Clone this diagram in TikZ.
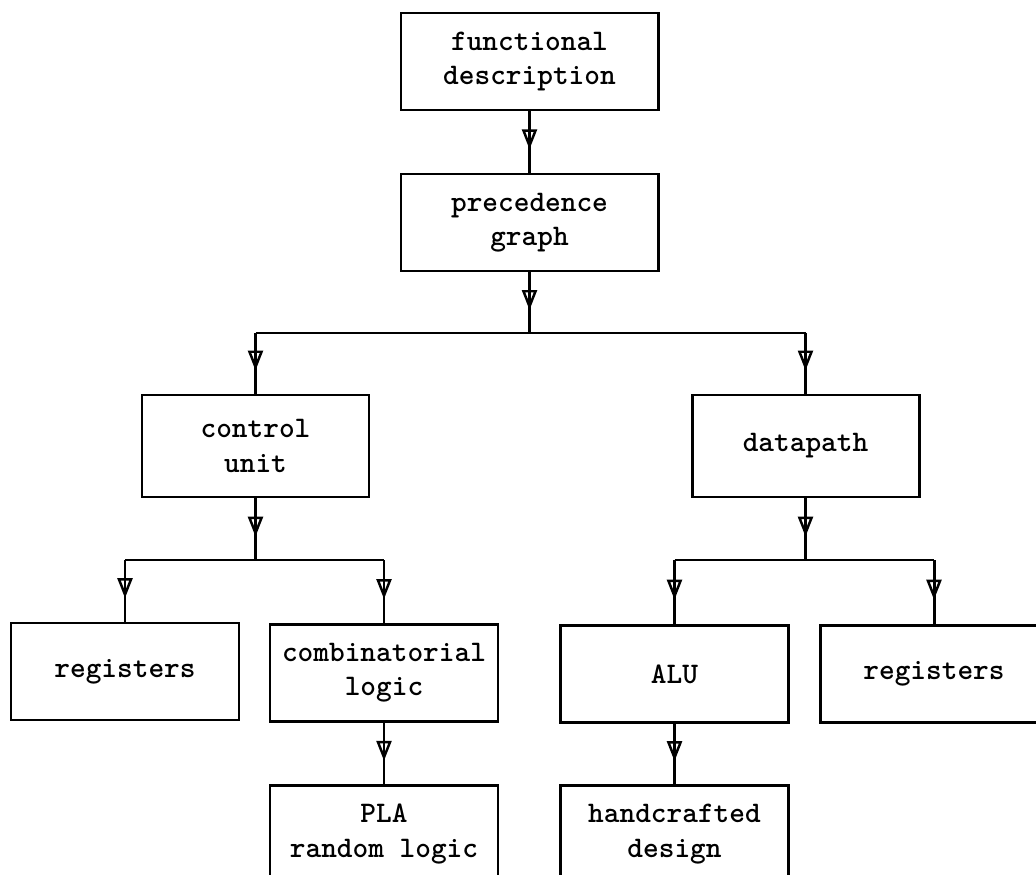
\documentclass[tikz,border=0pt]{standalone}
\usepackage{tikz}
\usetikzlibrary{arrows.meta, positioning, calc, decorations.markings}

\begin{document}
\begin{tikzpicture}[
    box/.style={rectangle, draw, line width=1.7pt, minimum width=4.56cm, minimum height=1.94cm, align=center, inner sep=2pt, font=\fontsize{17}{19.5}\selectfont\ttfamily\bfseries},
    link/.style={line width=1.7pt},
    midarrow/.style={link, postaction={decorate}, decoration={markings, mark=at position 0.62 with {\arrow[line width=1.4pt]{Triangle[open, length=4mm, width=3mm]}}}}
]

% Page frame
\clip (0,0) rectangle (20.72,-17.5);

% Top of the tree
\node[box, minimum width=5.14cm] (func) at (10.59,-1.23) {functional\\description};
\node[box, minimum width=5.14cm] (prec) at (10.59,-4.45) {precedence\\graph};

% Second level
\node[box, minimum width=4.54cm, minimum height=2.04cm] (ctrl) at (5.11,-8.92) {control\\unit};
\node[box, minimum width=4.54cm, minimum height=2.04cm] (data) at (16.11,-8.92) {datapath};

% Third level
\node[box] (regl) at (2.50,-13.43) {registers};
\node[box] (comb) at (7.68,-13.46) {combinatorial\\logic};
\node[box] (alu) at (13.49,-13.48) {ALU};
\node[box] (regr) at (18.68,-13.48) {registers};

% Bottom level
\node[box] (pla) at (7.68,-16.68) {PLA\\random logic};
\node[box] (hand) at (13.49,-16.68) {handcrafted\\design};

% Branch points
\coordinate (jtop) at (10.59,-6.66);
\coordinate (jctrl) at (ctrl |- jtop);
\coordinate (jdata) at (data |- jtop);
\coordinate (jleft) at (5.11,-11.2);
\coordinate (jregl) at (regl |- jleft);
\coordinate (jcomb) at (comb |- jleft);
\coordinate (jright) at (16.11,-11.2);
\coordinate (jalu) at (alu |- jright);
\coordinate (jregr) at (regr |- jright);

% Arrows
\draw[midarrow] (func) -- (prec);
\draw[midarrow] (prec) -- (jtop);
\draw[link] (jctrl) -- (jdata);
\draw[midarrow] (jctrl) -- (ctrl);
\draw[midarrow] (jdata) -- (data);

\draw[midarrow] (ctrl) -- (jleft);
\draw[link] (jregl) -- (jcomb);
\draw[midarrow] (jregl) -- (regl);
\draw[midarrow] (jcomb) -- (comb);

\draw[midarrow] (data) -- (jright);
\draw[link] (jalu) -- (jregr);
\draw[midarrow] (jalu) -- (alu);
\draw[midarrow] (jregr) -- (regr);

\draw[midarrow] (comb) -- (pla);
\draw[midarrow] (alu) -- (hand);

\end{tikzpicture}
\end{document}
